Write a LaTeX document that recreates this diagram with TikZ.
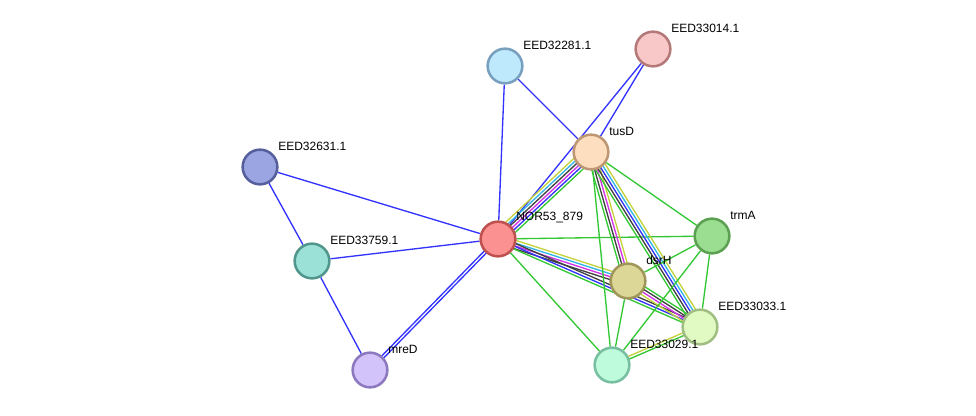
\documentclass[tikz,border=0pt]{standalone}
\usepackage{fontspec}
\setmainfont{Liberation Sans}
\usetikzlibrary{calc,backgrounds}
\definecolor{eblue}{RGB}{51,51,255}
\definecolor{egreen}{RGB}{51,200,51}
\definecolor{epink}{RGB}{210,50,230}
\definecolor{edark}{RGB}{64,64,64}
\definecolor{ecyan}{RGB}{50,180,230}
\definecolor{eyel}{RGB}{195,210,60}
% several evidence lines side by side between two proteins
\newcommand{\bundle}[4]{%
 \foreach \c [count=\i] in {#4}{%
  \pgfmathsetmacro\off{(\i-(#3+1)/2)*2.1}
  \draw[E,color=\c]($(#1)!\off pt!90:(#2)$)--($(#2)!\off pt!-90:(#1)$);}}

\begin{document}
\begin{tikzpicture}[x=0.75pt,y=-0.75pt,font=\fontsize{9}{11}\selectfont,
 P/.style={circle,line width=1.9pt,inner sep=0pt,minimum size=26pt},
 lbl/.style={anchor=west,inner sep=0pt},
 E/.style={line width=1pt}]
 \useasboundingbox (0,0) rectangle (976,416);
 \node[P,draw={rgb,255:red,190;green,80;blue,80},fill={rgb,255:red,252;green,145;blue,145}](nor) at (498,239){};
 \node[P,draw={rgb,255:red,190;green,150;blue,115},fill={rgb,255:red,253;green,222;blue,190}](tusd) at (591,152){};
 \node[P,draw={rgb,255:red,120;green,160;blue,190},fill={rgb,255:red,190;green,232;blue,252}](p281) at (505,66){};
 \node[P,draw={rgb,255:red,180;green,120;blue,120},fill={rgb,255:red,248;green,200;blue,200}](p014) at (653,49){};
 \node[P,draw={rgb,255:red,85;green,95;blue,155},fill={rgb,255:red,155;green,165;blue,225}](p631) at (260,167){};
 \node[P,draw={rgb,255:red,80;green,150;blue,140},fill={rgb,255:red,155;green,225;blue,215}](p759) at (312,261){};
 \node[P,draw={rgb,255:red,140;green,120;blue,190},fill={rgb,255:red,210;green,195;blue,250}](mred) at (370,370){};
 \node[P,draw={rgb,255:red,90;green,160;blue,80},fill={rgb,255:red,155;green,222;blue,145}](trma) at (712,236){};
 \node[P,draw={rgb,255:red,160;green,150;blue,90},fill={rgb,255:red,220;green,215;blue,150}](dsrh) at (628,281){};
 \node[P,draw={rgb,255:red,160;green,190;blue,130},fill={rgb,255:red,225;green,250;blue,195}](p033) at (700,327){};
 \node[P,draw={rgb,255:red,120;green,190;blue,160},fill={rgb,255:red,190;green,250;blue,220}](p029) at (612,365){};
 \node[lbl](norl) at ($(nor)+(18,-21)$){NOR53\_879};
 \node[lbl](tusdl) at ($(tusd)+(18,-21)$){tusD};
 \node[lbl](p281l) at ($(p281)+(18,-21)$){EED32281.1};
 \node[lbl](p014l) at ($(p014)+(18,-21)$){EED33014.1};
 \node[lbl](p631l) at ($(p631)+(18,-21)$){EED32631.1};
 \node[lbl](p759l) at ($(p759)+(18,-21)$){EED33759.1};
 \node[lbl](mredl) at ($(mred)+(18,-21)$){mreD};
 \node[lbl](trmal) at ($(trma)+(18,-21)$){trmA};
 \node[lbl](dsrhl) at ($(dsrh)+(18,-21)$){dsrH};
 \node[lbl](p033l) at ($(p033)+(18,-21)$){EED33033.1};
 \node[lbl](p029l) at ($(p029)+(18,-21)$){EED33029.1};
 \begin{scope}[on background layer]
  \draw[E,eblue](p281)--(nor);
  \draw[E,eblue](p281)--(tusd);
  \draw[E,eblue](p014)--(tusd);
  \draw[E,eblue](p014)--(nor);
  \draw[E,eblue](p631)--(nor);
  \draw[E,eblue](p631)--(p759);
  \draw[E,eblue](p759)--(nor);
  \draw[E,eblue](p759)--(mred);
  \bundle{mred}{nor}{2}{eblue,eblue}
  \bundle{nor}{tusd}{6}{egreen,eblue,epink,edark,ecyan,eyel}
  \bundle{nor}{dsrh}{4}{edark,epink,ecyan,eyel}
  \bundle{nor}{p033}{3}{egreen,eblue,edark}
  \draw[E,egreen](nor)--(trma);
  \draw[E,egreen](nor)--(p029);
  \draw[E,egreen](tusd)--(trma);
  \draw[E,egreen](tusd)--(p029);
  \bundle{tusd}{dsrh}{4}{egreen,edark,epink,eyel}
  \bundle{tusd}{p033}{5}{egreen,edark,eblue,ecyan,eyel}
  \bundle{dsrh}{p033}{4}{eyel,epink,edark,egreen}
  \draw[E,egreen](trma)--(dsrh);
  \draw[E,egreen](trma)--(p033);
  \draw[E,egreen](trma)--(p029);
  \draw[E,egreen](dsrh)--(p029);
  \bundle{p033}{p029}{2}{eyel,egreen}
 \end{scope}
\end{tikzpicture}
\end{document}
